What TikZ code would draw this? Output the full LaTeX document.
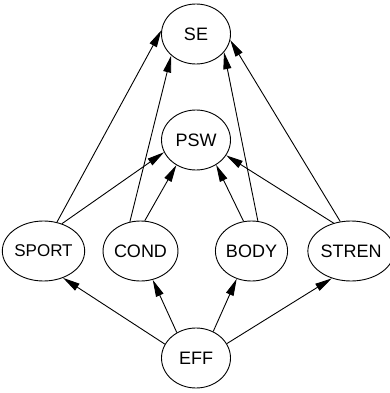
\documentclass[tikz,border=0pt]{standalone}
\usepackage{fontspec}
\setmainfont{Liberation Sans}
\usetikzlibrary{arrows.meta,shapes.geometric}
\begin{document}
\begin{tikzpicture}[x=1pt,y=-1pt,
  var/.style={draw,ellipse,line width=0.9pt,inner sep=0pt,minimum width=69pt,minimum height=60pt,font=\fontsize{18}{20}\selectfont},
  conn/.style={line width=0.9pt,-{Triangle[length=17pt,width=8pt]}}]
\useasboundingbox (0,0) rectangle (390,393);
\node[var] (se) at (196,34) {SE};
\node[var] (psw) at (196,140) {PSW};
\node[var,minimum width=67pt] (sport) at (43.5,251) {\fontsize{17}{20}\selectfont SPORT};
\node[var,minimum width=67pt] (cond) at (140.5,251) {COND};
\node[var] (body) at (251.5,251) {BODY};
\node[var] (stren) at (351,251) {STREN};
\node[var] (eff) at (196,358) {EFF};
\draw[conn] (sport.65) -- (se.174);
\draw[conn] (sport.56) -- (psw.201);
\draw[conn] (cond.110) -- (se.221);
\draw[conn] (cond.82) -- (psw.232);
\draw[conn] (body.78) -- (se.327);
\draw[conn] (body.105) -- (psw.309);
\draw[conn] (stren.110) -- (se.350);
\draw[conn] (stren.122) -- (psw.333);
\draw[conn] (eff.156) -- (sport.306);
\draw[conn] (eff.127) -- (cond.293);
\draw[conn] (eff.57) -- (body.242);
\draw[conn] (eff.25) -- (stren.235);
\end{tikzpicture}
\end{document}
